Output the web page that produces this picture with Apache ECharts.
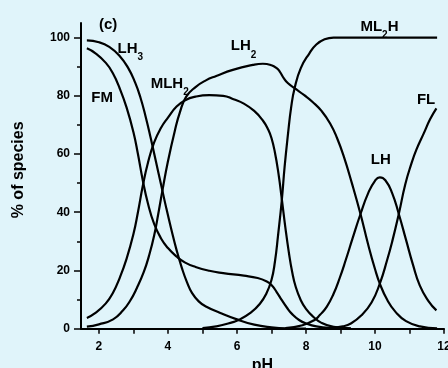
<!DOCTYPE html>
<html><head><meta charset="utf-8">
<script src="https://cdn.jsdelivr.net/npm/echarts@6/dist/echarts.min.js"></script>
<style>html,body{margin:0;padding:0;background:#e0f4fa}#c{width:448px;height:368px}</style>
</head><body><div id="c"></div>
<script>
// ---- data: [pH, % of species] ----
const LH3 = [[1.65,99],[2.0,98.4],[2.3,96.8],[2.6,93.7],[2.85,89.5],[3.05,84.5],[3.2,79.5],[3.35,73],[3.5,65.5],[3.65,57.5],[3.8,49.5],[3.95,41.5],[4.1,34],[4.25,27],[4.4,21],[4.55,16],[4.7,12.2],[4.9,9.3],[5.1,7.6],[5.5,5.5],[6.0,3.2],[6.5,1.4],[7.0,0.5],[7.5,0.1],[8.0,0]];
const FM = [[1.65,96.3],[1.9,94.6],[2.2,91.3],[2.4,87.8],[2.6,82.6],[2.8,76],[3.0,67.5],[3.13,60],[3.27,51],[3.42,43],[3.6,36],[3.8,31],[4.0,27.7],[4.25,24.8],[4.5,22.7],[4.8,21.2],[5.2,19.9],[5.6,19.1],[6.2,18.2],[6.6,17.4],[6.85,16.3],[7.0,15],[7.15,12.6],[7.3,9.8],[7.45,7.2],[7.6,5],[7.8,3],[8.0,1.8],[8.3,0.8],[8.8,0.2],[9.3,0]];
const MLH2 = [[1.65,3.7],[1.9,5.4],[2.2,8.7],[2.4,12.2],[2.6,17.4],[2.8,24],[3.0,32.5],[3.13,40],[3.27,49],[3.42,57],[3.6,64],[3.8,69],[4.0,72.5],[4.25,76.3],[4.5,78.5],[4.8,79.7],[5.2,80.2],[5.6,80],[5.9,78.8],[6.2,77.3],[6.5,74.8],[6.75,71.5],[6.9,68.5],[7.0,65.5],[7.1,60.5],[7.2,53.5],[7.3,44.5],[7.4,35],[7.5,26.5],[7.6,19.5],[7.7,14.5],[7.85,9.8],[8.0,6.8],[8.2,4.2],[8.45,2],[8.8,0.6],[9.3,0.1]];
const LH2 = [[1.65,0.7],[2.0,1.5],[2.41,3.2],[2.7,6.3],[2.9,9.5],[3.1,14],[3.3,19.5],[3.45,25],[3.6,32],[3.72,39.5],[3.84,47.5],[4.0,57.5],[4.2,68],[4.35,74.5],[4.53,79.7],[4.8,83],[5.1,85.3],[5.4,86.8],[5.88,88.9],[6.46,90.6],[6.75,91],[7.0,90.5],[7.15,89.5],[7.24,88.3],[7.36,86],[7.48,84.3],[7.67,82.6],[7.95,80.2],[8.2,77.8],[8.45,74.8],[8.7,70.5],[8.9,65.5],[9.1,59],[9.33,50],[9.58,39.4],[9.8,29],[10.0,20.5],[10.14,15.5],[10.35,10],[10.6,5.7],[10.9,2.6],[11.3,0.8],[11.8,0.15]];
const ML2H = [[5.0,0.2],[5.4,0.8],[5.69,1.6],[6.08,3.2],[6.4,5.5],[6.66,8.5],[6.85,12],[7.0,16.7],[7.1,23],[7.19,32],[7.3,44.2],[7.38,55.5],[7.48,67],[7.57,76],[7.67,82.6],[7.85,89.5],[8.1,94.6],[8.3,97.6],[8.54,99.4],[8.8,100],[11.8,100]];
const LH = [[7.4,0.2],[7.9,1.2],[8.25,3],[8.4,4.7],[8.6,7.5],[8.8,12],[8.98,17.5],[9.15,23.5],[9.35,31],[9.58,39.4],[9.8,46.5],[10.0,50.8],[10.14,52],[10.3,51],[10.5,46.5],[10.69,39.4],[10.9,30.5],[11.1,22],[11.3,14.8],[11.55,9.5],[11.78,6.3]];
const FL = [[8.4,0.1],[8.8,0.4],[9.07,0.8],[9.3,1.8],[9.6,4.5],[9.9,9],[10.14,15.5],[10.35,23.5],[10.5,30],[10.69,39.4],[10.88,49.7],[11.05,56.5],[11.2,61.5],[11.41,67],[11.6,72],[11.78,75.7]];

// tick values
const xLabelValues = [2,4,6,8,10,12];
const xTickValues = [2,3,4,5,6,7,8,9,10,11,12];
const yLabelValues = [0,20,40,60,80,100];
const yMinorValues = [10,30,50,70,90];

// species labels: text (main + subscript), anchor in data units
const labelMain = ['LH','FM','MLH','LH','ML','FL','LH'];
const labelSub  = ['3','','2','2','2','',''];
const labelTail = ['','','','','H','',''];
const labelAt   = [[2.91,96.1],[2.09,79.3],[4.05,84.1],[6.19,97.0],[10.13,103.7],[11.48,78.7],[10.17,58]];

const FONT = 'Liberation Sans, Arial, Helvetica, sans-serif';
const chart = echarts.init(document.getElementById('c'), null, {renderer:'canvas'});

const curves = {LH3, FM, MLH2, LH2, ML2H, LH, FL};
const lineSeries = Object.keys(curves).map(k => ({
  name: k, type: 'line', data: curves[k], showSymbol: false, symbol: 'none',
  smooth: 0.5,
  lineStyle: {color: '#000', width: 2.2}, silent: true, z: 3
}));

const labelData = labelAt.map((p, i) => ({
  value: p,
  label: {formatter: '{m|' + labelMain[i] + '}' + (labelSub[i] ? '{s|' + labelSub[i] + '}' : '') + (labelTail[i] ? '{m|' + labelTail[i] + '}' : '')}
}));

chart.setOption({
  backgroundColor: '#e0f4fa',
  animation: false,
  title: {text: '(c)', left: 94, top: 12, textStyle: {fontSize: 15, fontWeight: 'bold', fontFamily: FONT, color: '#000'}},
  grid: {left: 81, right: 4, top: 23, bottom: 39.3, outerBoundsMode: 'none', containLabel: false},
  xAxis: {
    type: 'value', min: 1.48, max: 12,
    name: 'pH', nameLocation: 'middle', nameGap: 23,
    nameTextStyle: {fontSize: 16, fontWeight: 'bold', fontFamily: FONT, color: '#000'},
    axisLine: {lineStyle: {color: '#000', width: 2}},
    axisTick: {show: true, inside: false, length: 5, customValues: xTickValues, lineStyle: {color: '#000', width: 1.5}},
    axisLabel: {customValues: xLabelValues, margin: 12, fontSize: 12, fontWeight: 'bold', fontFamily: FONT, color: '#000'},
    splitLine: {show: false}
  },
  yAxis: [{
    type: 'value', min: 0, max: 105,
    name: '% of species', nameLocation: 'middle', nameGap: 54,
    nameTextStyle: {fontSize: 16, fontWeight: 'bold', fontFamily: FONT, color: '#000', padding: [0,0,0,12]},
    axisLine: {show: true, lineStyle: {color: '#000', width: 2}},
    axisTick: {show: true, length: 7, customValues: yLabelValues, lineStyle: {color: '#000', width: 1.5}},
    axisLabel: {customValues: yLabelValues, margin: 11, fontSize: 12, fontWeight: 'bold', fontFamily: FONT, color: '#000'},
    splitLine: {show: false}
  }, {
    type: 'value', min: 0, max: 105, position: 'left',
    axisLine: {show: false},
    axisTick: {show: true, length: 4, customValues: yMinorValues, lineStyle: {color: '#000', width: 1.5}},
    axisLabel: {show: false},
    splitLine: {show: false}
  }],
  series: lineSeries.concat([{
    type: 'scatter', data: labelData, symbolSize: 0, itemStyle: {color: '#000', opacity: 1}, silent: true, z: 5,
    label: {
      show: true, position: 'inside', color: '#000', textBorderWidth: 0, opacity: 1,
      rich: {
        m: {fontSize: 15, fontWeight: 'bold', fontFamily: FONT, color: '#000', lineHeight: 16, textBorderWidth: 0},
        s: {fontSize: 10, fontWeight: 'bold', fontFamily: FONT, color: '#000', lineHeight: 10, padding: [17,0,0,0], textBorderWidth: 0}
      }
    }
  }])
});
</script></body></html>
